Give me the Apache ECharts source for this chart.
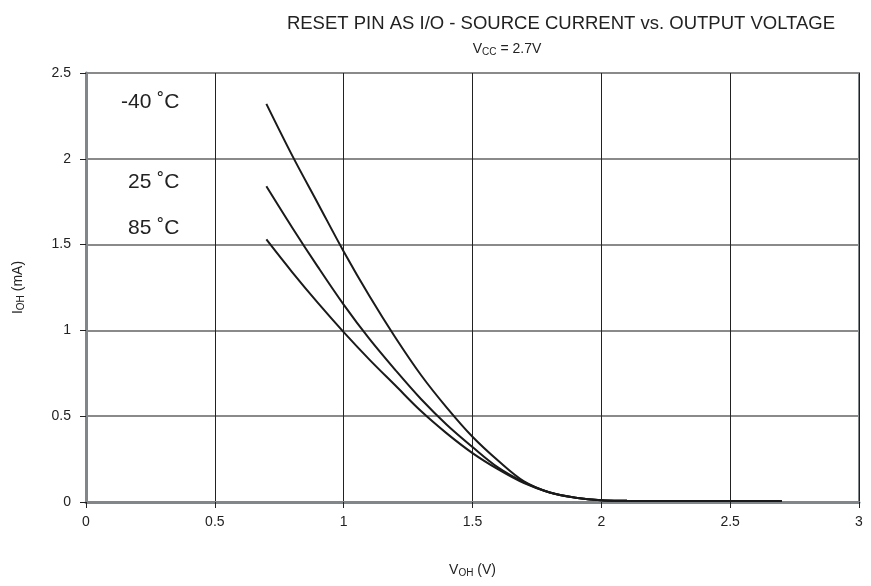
<!DOCTYPE html>
<html>
<head>
<meta charset="utf-8">
<script src="https://cdn.jsdelivr.net/npm/echarts@6/dist/echarts.min.js"></script>
<style>
  html, body { margin: 0; padding: 0; background: #fff; }
  #chart { width: 871px; height: 586px; }
</style>
</head>
<body>
<div id="chart"></div>
<script>
// V_OH (V)
var voh = [0.7, 0.8, 0.9, 1.0, 1.1, 1.2, 1.3, 1.4, 1.5, 1.6, 1.7, 1.8, 1.9, 2.0, 2.1, 2.2, 2.3, 2.4, 2.5, 2.6, 2.7];
// I_OH (mA) per temperature
var iohM40 = [2.32, 2.02, 1.74, 1.46, 1.2, 0.96, 0.74, 0.55, 0.38, 0.24, 0.12, 0.055, 0.025, 0.01, 0.007, 0.006, 0.006, 0.006, 0.006, 0.006, 0.006];
var ioh25 = [1.84, 1.6, 1.37, 1.15, 0.95, 0.77, 0.6, 0.45, 0.32, 0.2, 0.115, 0.055, 0.025, 0.01, 0.007, 0.006, 0.006, 0.006, 0.006, 0.006, 0.006];
var ioh85 = [1.53, 1.34, 1.16, 0.99, 0.83, 0.68, 0.53, 0.4, 0.285, 0.19, 0.11, 0.055, 0.025, 0.01, 0.007, 0.006, 0.006, 0.006, 0.006, 0.006, 0.006];
var tempLabels = ['-40 ˚C', '25 ˚C', '85 ˚C'];

function pairs(ys) {
    return voh.map(function (x, i) { return [x, ys[i]]; });
}

var font = '"Liberation Sans", Arial, sans-serif';
var chart = echarts.init(document.getElementById('chart'));

function curve(name, ys) {
    return {
        name: name,
        type: 'line',
        data: pairs(ys),
        smooth: 0.35,
        symbol: 'none',
        lineStyle: { color: '#1a1a1a', width: 2 }
    };
}

var subRich = {
    n: { fontSize: 14, color: '#222', fontFamily: font },
    s: { fontSize: 10, color: '#222', fontFamily: font, padding: [6, 0, 0, 0] }
};

chart.setOption({
    animation: false,
    textStyle: { fontFamily: font },
    title: [{
        text: 'RESET PIN AS I/O - SOURCE CURRENT vs. OUTPUT VOLTAGE',
        left: 556, top: 9, textAlign: 'center',
        textStyle: { fontSize: 18.5, fontWeight: 'normal', color: '#222', fontFamily: font }
    }, {
        text: '{n|V}{s|CC}{n| = 2.7V}',
        left: 502, top: 36, textAlign: 'center',
        textStyle: { fontWeight: 'normal', fontFamily: font, rich: subRich }
    }],
    grid: {
        left: 86, top: 73, right: 12, bottom: 84,
        show: true, borderColor: '#80868a', borderWidth: 2
    },
    xAxis: {
        type: 'value', min: 0, max: 3, interval: 0.5,
        name: '{n|V}{s|OH}{n| (V)}',
        nameLocation: 'middle', nameGap: 60,
        nameTextStyle: { rich: subRich },
        axisLine: { lineStyle: { color: '#80868a', width: 3 } },
        axisTick: { show: true, length: 6, lineStyle: { color: '#222', width: 1 } },
        axisLabel: { color: '#222', fontSize: 14, margin: 13, fontFamily: font },
        splitLine: { show: true, lineStyle: { color: '#222', width: 1 } }
    },
    yAxis: {
        type: 'value', min: 0, max: 2.5, interval: 0.5,
        name: '{n|I}{s|OH}{n| (mA)}',
        nameLocation: 'middle', nameGap: 60,
        nameTextStyle: { rich: subRich },
        axisLine: { show: true, lineStyle: { color: '#80868a', width: 3 } },
        axisTick: { show: true, length: 6, lineStyle: { color: '#222', width: 1 } },
        axisLabel: { color: '#222', fontSize: 14, margin: 15, fontFamily: font },
        splitLine: { show: true, lineStyle: { color: '#8a8a8a', width: 2 } }
    },
    graphic: [
        { type: 'text', left: 121, top: 92, style: { text: tempLabels[0], font: '21px ' + font, fill: '#222' } },
        { type: 'text', left: 128, top: 172, style: { text: tempLabels[1], font: '21px ' + font, fill: '#222' } },
        { type: 'text', left: 128, top: 218, style: { text: tempLabels[2], font: '21px ' + font, fill: '#222' } }
    ],
    series: [
        curve(tempLabels[0], iohM40),
        curve(tempLabels[1], ioh25),
        curve(tempLabels[2], ioh85)
    ]
});
</script>
</body>
</html>
